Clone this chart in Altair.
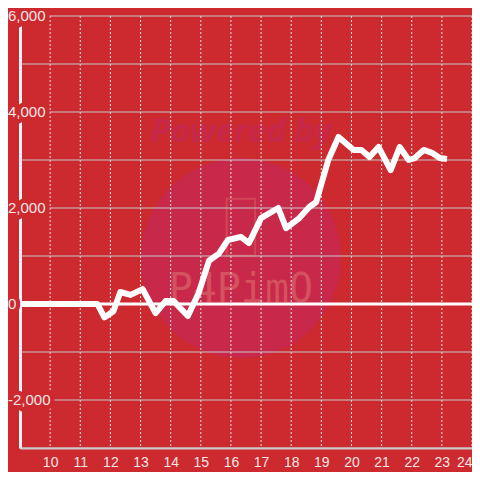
import altair as alt
import pandas as pd

# --- data ---
hours = [9.0, 11.57, 11.8, 12.1, 12.33, 12.67, 13.07, 13.5, 13.83, 14.1, 14.57, 14.93,
         15.27, 15.6, 15.9, 16.33, 16.6, 17.0, 17.57, 17.83, 18.27, 18.6, 18.83, 19.23,
         19.57, 20.07, 20.33, 20.6, 20.9, 21.3, 21.6, 21.9, 22.1, 22.4, 22.67, 22.93, 23.17]
values = [0, 0, -280, -150, 250, 190, 310, -190, 60, 60, -250, 230, 900, 1050, 1333,
          1400, 1270, 1790, 2000, 1580, 1790, 2020, 2125, 3000, 3480, 3210, 3210, 3060,
          3270, 2790, 3270, 3000, 3040, 3210, 3150, 3040, 3020]

x_ticks = list(range(10, 25))
y_grid = list(range(-3000, 7000, 1000))
y_labels = [-2000, 0, 2000, 4000, 6000]
y_label_text = ["-2,000", "0", "2,000", "4,000", "6,000"]

BG = "#cc2a2f"
W, H = 452, 432
XDOM = [9, 24]
YDOM = [-3000, 6000]

df = pd.DataFrame({"h": hours, "v": values})
xg = pd.DataFrame({"h": x_ticks})
yg = pd.DataFrame({"v": [v for v in y_grid if v != 0]})
zero = pd.DataFrame({"v": [0]})
ylab = pd.DataFrame({"h": [XDOM[0]] * len(y_labels), "v": y_labels, "t": y_label_text})

xs = alt.Scale(domain=XDOM, nice=False, zero=False)
ys = alt.Scale(domain=YDOM, nice=False, zero=False)

xaxis = alt.Axis(title=None, values=x_ticks, grid=False, ticks=False,
                 domainColor="#cccccc", domainWidth=2, labelPadding=7,
                 labelFontSize=14, labelColor="#f6e6e6", labelFont="Liberation Sans",
                 labelFlush=True, labelOverlap=False)
yaxis = alt.Axis(title=None, values=y_labels, grid=False, ticks=False, labels=False,
                 domainColor="#f4f4f4", domainWidth=3)

X = alt.X("h:Q", scale=xs, axis=xaxis)
Y = alt.Y("v:Q", scale=ys, axis=yaxis)

# watermark
wm = pd.DataFrame({"h": [16.33], "v": [958]})
circle = alt.Chart(wm).mark_point(filled=True, shape="circle", size=40000,
                                  color="#c8284a", opacity=1).encode(x=X, y=Y)
powered = alt.Chart(pd.DataFrame({"h": [16.33], "v": [3580], "t": ["Powered by"]})).mark_text(
    font="Open Sans", fontSize=33, fontWeight="bold", fontStyle="italic", color="#c7284a"
).encode(x=X, y=Y, text="t:N")
logo = alt.Chart(pd.DataFrame({"h": [16.33], "v": [290], "t": ["P4PimO"]})).mark_text(
    font="DejaVu Sans Mono", fontSize=40, color="#d4525f"
).encode(x=X, y=Y, text="t:N")
phone = alt.Chart(pd.DataFrame({"h": [16.33], "v": [1600]})).mark_point(
    shape="M-0.5,-1H0.5V1H-0.5Z", size=3249, filled=False, color="#d4525f", strokeWidth=2
).encode(x=X, y=Y)

vgrid = alt.Chart(xg).mark_rule(color="#ece4e4", strokeWidth=1, strokeDash=[2, 2]).encode(x=X)
hgrid = alt.Chart(yg).mark_rule(color="#c8c8c8", strokeWidth=1).encode(y=Y)
zline = alt.Chart(zero).mark_rule(color="#ffffff", strokeWidth=3).encode(y=Y)

line = alt.Chart(df).mark_line(color="#ffffff", strokeWidth=6, strokeJoin="round").encode(
    x=X, y=Y)

# y labels with a background-coloured halo that hides the lines behind them
lab_halo = alt.Chart(ylab).mark_text(
    align="left", baseline="middle", dx=-12, font="Liberation Sans", fontSize=15,
    color=BG, stroke=BG, strokeWidth=9, strokeJoin="round"
).encode(x=X, y=Y, text="t:N")
lab = alt.Chart(ylab).mark_text(
    align="left", baseline="middle", dx=-12, font="Liberation Sans", fontSize=15,
    color="#f6e6e6"
).encode(x=X, y=Y, text="t:N")

chart = alt.layer(circle, powered, logo, phone, vgrid, hgrid, zline, line,
                  lab_halo, lab).properties(
    width=W, height=H, background=BG,
    padding={"left": 12, "top": 8, "right": 0, "bottom": 24},
    autosize=alt.AutoSizeParams(type="none"),
).configure_view(stroke=None)

chart.save("out.html", embed_options={"renderer": "svg", "actions": False})
